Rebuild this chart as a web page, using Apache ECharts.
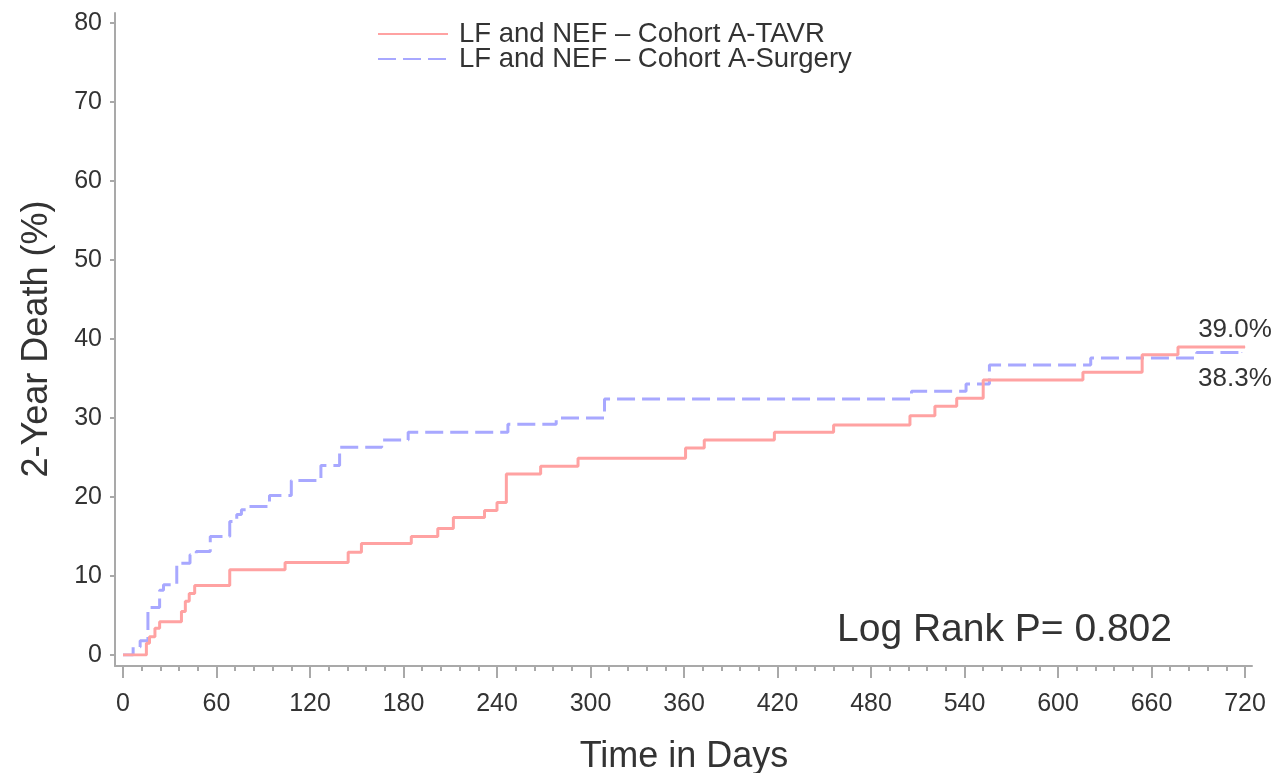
<!DOCTYPE html>
<html>
<head>
<meta charset="utf-8">
<script src="https://cdn.jsdelivr.net/npm/echarts@6/dist/echarts.min.js"></script>
<style>
  html, body { margin: 0; padding: 0; background: #ffffff; }
  #chart { width: 1282px; height: 773px; }
</style>
</head>
<body>
<div id="chart"></div>
<script>
// Kaplan-Meier cumulative death (%), low-flow / normal-EF patients, cohort A
const seriesNames = ['LF and NEF \u2013 Cohort A-TAVR', 'LF and NEF \u2013 Cohort A-Surgery'];

// TAVR arm: event day and cumulative death (%) from that day on
const tavrDays  = [0, 15, 17, 20.5, 23.5, 37.5, 40, 42.5, 46, 68.5, 104, 144.5, 153, 185, 202, 212, 232, 240, 246, 268, 292, 361, 373, 418, 456, 505, 521, 535, 552, 616, 654, 677, 720];
const tavrDeath = [0, 1.5, 2.3, 3.4, 4.2, 5.5, 6.8, 7.8, 8.8, 10.8, 11.7, 13.0, 14.1, 15.0, 16.0, 17.4, 18.3, 19.3, 22.9, 23.9, 24.9, 26.2, 27.2, 28.2, 29.1, 30.3, 31.5, 32.5, 34.8, 35.8, 38.0, 39.0, 39.0];

// Surgery arm
const surgDays  = [0, 6.5, 11, 16, 23.5, 26, 34.5, 43, 47, 56, 68.5, 73, 76, 79, 94, 108, 127, 139, 166, 183, 247, 278, 309, 506, 541, 556, 621, 689, 718];
const surgDeath = [0, 1.0, 1.8, 6.0, 8.2, 8.9, 11.6, 12.7, 13.1, 15.0, 16.9, 17.8, 18.4, 18.8, 20.2, 22.1, 24.0, 26.3, 27.2, 28.2, 29.2, 30.0, 32.4, 33.4, 34.3, 36.7, 37.6, 38.3, 38.3];

const xAxisTitle = 'Time in Days';
const yAxisTitle = '2-Year Death (%)';
const pValueText = 'Log Rank P= 0.802';

const FONT = "'Liberation Sans', Arial, sans-serif";
const TEXT_COLOR = '#333333';
const AXIS_COLOR = '#a9a9a9';
const RED = '#ffa2a2';
const BLUE = '#a8a8ff';

// pair days with values; the last point carries the end-of-curve percentage label
function buildPoints(days, values, labelCfg) {
  return days.map((d, i) => {
    if (i === days.length - 1) {
      return {
        value: [d, values[i]],
        symbol: 'circle',
        symbolSize: 1,
        label: Object.assign({
          show: true,
          formatter: p => p.value[1].toFixed(1) + '%',
          color: TEXT_COLOR,
          fontFamily: FONT,
          fontSize: 26
        }, labelCfg)
      };
    }
    return [d, values[i]];
  });
}

const chart = echarts.init(document.getElementById('chart'), null, { renderer: 'canvas' });

chart.setOption({
  animation: false,
  backgroundColor: '#ffffff',
  textStyle: { fontFamily: FONT },
  title: {
    text: pValueText,
    left: 837,
    top: 611,
    padding: 0,
    textStyle: { fontFamily: FONT, fontSize: 39, fontWeight: 'normal', color: TEXT_COLOR }
  },
  legend: {
    orient: 'vertical',
    left: 377,
    top: 20,
    padding: 0,
    itemGap: -3,
    itemWidth: 70,
    itemHeight: 14,
    itemStyle: { opacity: 0 },
    textStyle: { fontFamily: FONT, fontSize: 27.5, lineHeight: 25, color: TEXT_COLOR, padding: [0, 0, 0, 6] },
    data: seriesNames
  },
  grid: [
    { left: 123, right: 37, top: 23, bottom: 118, containLabel: false, outerBoundsMode: 'none' },
    // frame grid: carries the offset axis lines, slightly larger than the plot area
    { left: 115, right: 30, top: 13, bottom: 107, containLabel: false, outerBoundsMode: 'none' }
  ],
  xAxis: [
    {
      type: 'value',
      gridIndex: 0,
      position: 'bottom',
      min: 0,
      max: 720,
      interval: 60,
      offset: 11,
      axisLine: { show: false, onZero: false },
      axisTick: { show: true, inside: false, length: 12, lineStyle: { color: AXIS_COLOR, width: 2 } },
      minorTick: { show: true, splitNumber: 5, length: 5, lineStyle: { color: AXIS_COLOR, width: 2 } },
      splitLine: { show: false },
      axisLabel: { color: TEXT_COLOR, fontFamily: FONT, fontSize: 25, margin: 26 },
      name: xAxisTitle,
      nameLocation: 'middle',
      nameGap: 73,
      nameTextStyle: { color: TEXT_COLOR, fontFamily: FONT, fontSize: 36 }
    },
    {
      type: 'value',
      gridIndex: 1,
      min: 0,
      max: 1,
      axisLine: { show: true, onZero: false, lineStyle: { color: AXIS_COLOR, width: 2 } },
      axisTick: { show: false },
      axisLabel: { show: false },
      splitLine: { show: false }
    }
  ],
  yAxis: [
    {
      type: 'value',
      gridIndex: 0,
      position: 'left',
      min: 0,
      max: 80,
      interval: 10,
      offset: 8,
      axisLine: { show: false, onZero: false },
      axisTick: { show: true, inside: false, length: 5, lineStyle: { color: AXIS_COLOR, width: 2 } },
      splitLine: { show: false },
      axisLabel: { color: TEXT_COLOR, fontFamily: FONT, fontSize: 25, margin: 13 },
      name: yAxisTitle,
      nameLocation: 'middle',
      nameRotate: 90,
      nameGap: 60,
      nameTextStyle: { color: TEXT_COLOR, fontFamily: FONT, fontSize: 36 }
    },
    {
      type: 'value',
      gridIndex: 1,
      min: 0,
      max: 1,
      axisLine: { show: true, onZero: false, lineStyle: { color: AXIS_COLOR, width: 2 } },
      axisTick: { show: false },
      axisLabel: { show: false },
      splitLine: { show: false }
    }
  ],
  series: [
    {
      name: seriesNames[0],
      type: 'line',
      xAxisIndex: 0,
      yAxisIndex: 0,
      step: 'end',
      symbol: 'none',
      color: RED,
      lineStyle: { color: RED, width: 3, type: 'solid' },
      itemStyle: { color: RED },
      data: buildPoints(tavrDays, tavrDeath, { position: 'top', distance: 4, offset: [-10, 0] }),
      z: 3
    },
    {
      name: seriesNames[1],
      type: 'line',
      xAxisIndex: 0,
      yAxisIndex: 0,
      step: 'end',
      symbol: 'none',
      color: BLUE,
      lineStyle: { color: BLUE, width: 3, type: [18, 7] },
      itemStyle: { color: BLUE },
      data: buildPoints(surgDays, surgDeath, { position: 'bottom', distance: 13, offset: [-7, 0] }),
      z: 2
    }
  ]
});
</script>
</body>
</html>
